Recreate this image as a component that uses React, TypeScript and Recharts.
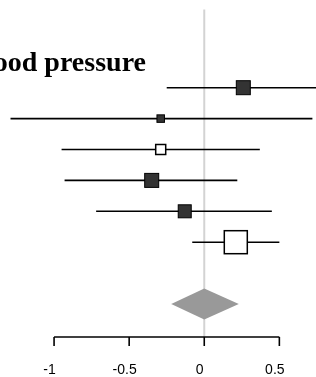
import {
  Area,
  ComposedChart,
  ErrorBar,
  ReferenceLine,
  Scatter,
  XAxis,
  YAxis
} from "recharts";

// study rows (top to bottom)
const rows = [1, 2, 3, 4, 5, 6];
const estimates = [0.26, -0.29, -0.29, -0.35, -0.13, 0.21];
const lowerCI = [-0.25, -1.29, -0.95, -0.93, -0.72, -0.08];
const upperCI = [0.85, 0.72, 0.37, 0.22, 0.45, 0.5];
const weights = [14, 7.5, 10, 14, 13, 23];
const subgroup = ["A", "A", "B", "A", "A", "B"];

// pooled estimate
const pooledRow = 8;
const pooledEstimate = 0.0;
const pooledLower = -0.22;
const pooledUpper = 0.23;

const xTicks = [-1, -0.5, 0, 0.5];

const studyData = rows.map((y, i) => ({
  y,
  x: estimates[i],
  err: [estimates[i] - lowerCI[i], upperCI[i] - estimates[i]],
  w: weights[i],
  group: subgroup[i]
}));

const diamondData = [
  { x: pooledLower, band: [pooledRow, pooledRow] },
  { x: pooledEstimate, band: [pooledRow - 0.5, pooledRow + 0.5] },
  { x: pooledUpper, band: [pooledRow, pooledRow] }
];

const Box = (props: any) => {
  const { cx, cy, payload } = props;
  const s = payload.w;
  const open = payload.group === "B";
  return (
    <rect
      x={cx - s / 2}
      y={cy - s / 2}
      width={s}
      height={s}
      fill={open ? "#ffffff" : "#333333"}
      stroke="#000"
      strokeWidth={open ? 1.5 : 1}
    />
  );
};

const Y_MIN = -1.838;
const Y_MAX = 9.068;

export default function App() {
  return (
    <div style={{ position: "fixed", left: 0, top: 0, width: 316, height: 377, background: "#fff" }}>
      <div
        style={{
          position: "absolute",
          right: 170,
          top: 48,
          whiteSpace: "nowrap",
          fontFamily: "'Liberation Serif', serif",
          fontWeight: 700,
          fontSize: 28,
          lineHeight: "28px",
          color: "#000"
        }}
      >
        Blood pressure
      </div>
      <ComposedChart width={316} height={377} margin={{ top: 0, right: 0, bottom: 0, left: 0 }}>
        <XAxis
          type="number"
          dataKey="x"
          domain={[-1.36, 0.744]}
          allowDataOverflow
          ticks={xTicks}
          axisLine={false}
          tickLine={{ stroke: "#000", strokeWidth: 1.6 }}
          tickSize={9}
          tickMargin={18.5}
          height={40}
          tick={{ fill: "#000", fontSize: 14, fontFamily: "'Liberation Sans', Arial, sans-serif", dx: -4.5 }}
        />
        <YAxis type="number" dataKey="y" domain={[Y_MIN, Y_MAX]} reversed hide allowDataOverflow />
        <ReferenceLine
          segment={[
            { x: 0, y: -1.53 },
            { x: 0, y: Y_MAX }
          ]}
          stroke="#d3d3d3"
          strokeWidth={2}
          zIndex={-10}
        />
        <ReferenceLine
          segment={[
            { x: -1, y: Y_MAX },
            { x: 0.5, y: Y_MAX }
          ]}
          stroke="#000"
          strokeWidth={1.6}
        />
        <Area
          data={diamondData}
          dataKey="band"
          type="linear"
          stroke="none"
          fill="#999999"
          fillOpacity={1}
          isAnimationActive={false}
          zIndex={450}
        />
        <Scatter data={studyData} shape={Box} isAnimationActive={false}>
          <ErrorBar dataKey="err" direction="x" width={0} stroke="#000" strokeWidth={1.6} />
        </Scatter>
      </ComposedChart>
    </div>
  );
}
